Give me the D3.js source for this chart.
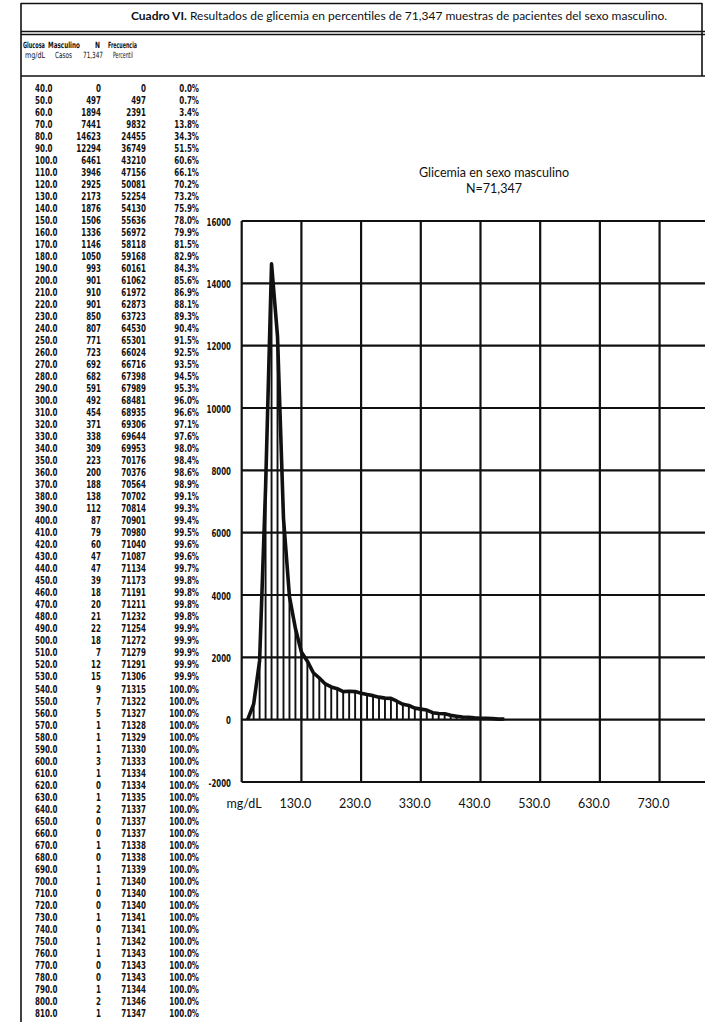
<!DOCTYPE html>
<html><head><meta charset="utf-8">
<script src="https://cdn.jsdelivr.net/npm/d3@7/dist/d3.min.js"></script>
<style>html,body{margin:0;padding:0;background:#fff;overflow:hidden}</style>
</head><body><svg id="c" width="705" height="1022"></svg>
<script>
const glucosa = [40,50,60,70,80,90,100,110,120,130,140,150,160,170,180,190,200,210,220,230,240,250,260,270,280,290,300,310,320,330,340,350,360,370,380,390,400,410,420,430,440,450,460,470,480,490,500,510,520,530,540,550,560,570,580,590,600,610,620,630,640,650,660,670,680,690,700,710,720,730,740,750,760,770,780,790,800,810];
const casos = [0,497,1894,7441,14623,12294,6461,3946,2925,2173,1876,1506,1336,1146,1050,993,901,910,901,850,807,771,723,692,682,591,492,454,371,338,309,223,200,188,138,112,87,79,60,47,47,39,18,20,21,22,18,7,12,15,9,7,5,1,1,1,3,1,0,1,2,0,0,1,0,1,1,0,0,1,0,1,1,0,0,1,2,1];
const acumulado = [0,497,2391,9832,24455,36749,43210,47156,50081,52254,54130,55636,56972,58118,59168,60161,61062,61972,62873,63723,64530,65301,66024,66716,67398,67989,68481,68935,69306,69644,69953,70176,70376,70564,70702,70814,70901,70980,71040,71087,71134,71173,71191,71211,71232,71254,71272,71279,71291,71306,71315,71322,71327,71328,71329,71330,71333,71334,71334,71335,71337,71337,71337,71338,71338,71339,71340,71340,71340,71341,71341,71342,71343,71343,71343,71344,71346,71347];
const percentil = ["0.0%","0.7%","3.4%","13.8%","34.3%","51.5%","60.6%","66.1%","70.2%","73.2%","75.9%","78.0%","79.9%","81.5%","82.9%","84.3%","85.6%","86.9%","88.1%","89.3%","90.4%","91.5%","92.5%","93.5%","94.5%","95.3%","96.0%","96.6%","97.1%","97.6%","98.0%","98.4%","98.6%","98.9%","99.1%","99.3%","99.4%","99.5%","99.6%","99.6%","99.7%","99.8%","99.8%","99.8%","99.8%","99.9%","99.9%","99.9%","99.9%","99.9%","100.0%","100.0%","100.0%","100.0%","100.0%","100.0%","100.0%","100.0%","100.0%","100.0%","100.0%","100.0%","100.0%","100.0%","100.0%","100.0%","100.0%","100.0%","100.0%","100.0%","100.0%","100.0%","100.0%","100.0%","100.0%","100.0%","100.0%","100.0%"];
const headers1 = ["Glucosa","Masculino","N","Frecuencia"];
const headers2 = ["mg/dL","Casos","71,347","Percentil"];
const tituloBold = "Cuadro VI.";
const tituloRest = " Resultados de glicemia en percentiles de 71,347 muestras de pacientes del sexo masculino.";
const chartTitle = ["Glicemia en sexo masculino","N=71,347"];
const yTicks = [-2000,0,2000,4000,6000,8000,10000,12000,14000,16000];
const xTicks = [130,230,330,430,530,630,730];
const xUnit = "mg/dL";
const chartLast = 470;

const svg = d3.select("#c");
svg.append("rect").attr("width",705).attr("height",1022).attr("fill","#fff");

const NARROW = "'Liberation Sans Narrow','DejaVu Sans Condensed',sans-serif";
const HUMAN = "Lato,'Open Sans',sans-serif";

// frame
const fr = svg.append("g").attr("stroke","#111").attr("fill","none");
fr.append("line").attr("x1",21).attr("x2",21).attr("y1",3).attr("y2",1022).attr("stroke-width",1.6);
fr.append("line").attr("x1",21).attr("x2",702).attr("y1",3.5).attr("y2",3.5).attr("stroke-width",1.6);
fr.append("line").attr("x1",702).attr("x2",702).attr("y1",3).attr("y2",76).attr("stroke-width",1.6);
fr.append("line").attr("x1",21).attr("x2",705).attr("y1",31.5).attr("y2",31.5).attr("stroke-width",1.4);
fr.append("line").attr("x1",21).attr("x2",705).attr("y1",34.5).attr("y2",34.5).attr("stroke-width",1.4);
fr.append("line").attr("x1",21).attr("x2",705).attr("y1",76).attr("y2",76).attr("stroke-width",1.6);

// title
const t = svg.append("text").attr("x",399).attr("y",16).attr("dy","0.35em").attr("text-anchor","middle")
  .attr("font-family",HUMAN).attr("font-size",12).attr("fill","#111");
t.append("tspan").attr("font-weight","bold").text(tituloBold);
t.append("tspan").text(tituloRest);

// headers (horizontally squeezed to fit the narrow columns)
function fitText(px, py, w, txt, bold){
  const el = svg.append("text").attr("dy","0.35em")
    .attr("font-family",NARROW).attr("font-weight",bold?"bold":"normal").attr("font-size",8.5)
    .attr("fill","#111").text(txt);
  const len = el.node().getComputedTextLength() || w;
  el.attr("transform",`translate(${px},${py}) scale(${w/len},1)`);
}
const h1x = [23,48,95,108], h1w = [22,32,5,29];
const h2x = [25,55,83,113], h2w = [20,17,20,20];
headers1.forEach((h,i)=>fitText(h1x[i],45,h1w[i],h,true));
headers2.forEach((h,i)=>fitText(h2x[i],55,h2w[i],h,false));

// table rows
const rowY = d3.scaleLinear().domain([0, glucosa.length-1]).range([88, 1013]);
const fmt1 = d3.format(".1f");
const tb = svg.append("g").attr("font-family",NARROW).attr("font-weight","bold").attr("font-size",11).attr("fill","#111");
function cell(x,y,txt,anchor){
  tb.append("text").attr("transform",`translate(${x},${y}) scale(0.72,1)`).attr("dy","0.35em")
    .attr("text-anchor",anchor).text(txt);
}
glucosa.forEach((g,i)=>{
  const y = rowY(i);
  cell(35,y,fmt1(g),"start");
  cell(101,y,String(casos[i]),"end");
  cell(146,y,String(acumulado[i]),"end");
  cell(199,y,percentil[i],"end");
});

// chart
const x = d3.scaleLinear().domain([30,820]).range([241.7,713.3]);
const y = d3.scaleLinear().domain([-2000,16000]).range([782,221]);
const grid = svg.append("g").attr("stroke","#111");
yTicks.forEach(v=>grid.append("line").attr("x1",x(30)).attr("x2",720).attr("y1",y(v)).attr("y2",y(v)).attr("stroke-width",2.2));
xTicks.forEach(v=>grid.append("line").attr("x1",x(v)).attr("x2",x(v)).attr("y1",y(16000)).attr("y2",y(-2000)).attr("stroke-width",2.2));
grid.append("line").attr("x1",x(30)).attr("x2",x(30)).attr("y1",y(16000)).attr("y2",y(-2000)).attr("stroke-width",2.2);

const series = glucosa.map((g,i)=>({g, v:casos[i]})).filter(d=>d.g<=chartLast);
const ch = svg.append("g");
ch.selectAll("line.drop").data(series).join("line").attr("class","drop")
  .attr("x1",d=>x(d.g)).attr("x2",d=>x(d.g)).attr("y1",y(0)).attr("y2",d=>y(d.v))
  .attr("stroke","#111").attr("stroke-width",1.9);
ch.append("path").datum(series).attr("fill","none").attr("stroke","#111").attr("stroke-width",3.6)
  .attr("stroke-linejoin","round")
  .attr("d",d3.line().x(d=>x(d.g)).y(d=>y(d.v)));

// y labels
const yl = svg.append("g").attr("font-family",NARROW).attr("font-weight","bold").attr("font-size",10).attr("fill","#111");
yTicks.forEach(v=>yl.append("text").attr("transform",`translate(231,${y(v)+1}) scale(0.78,1)`)
  .attr("dy","0.35em").attr("text-anchor","end").text(v));

// x labels
const xl = svg.append("g").attr("font-family",HUMAN).attr("font-size",12.5).attr("fill","#111").attr("text-anchor","middle");
xl.append("text").attr("x",244).attr("y",804).attr("dy","0.35em").text(xUnit);
xTicks.forEach(v=>xl.append("text").attr("x",x(v)-6).attr("y",804).attr("dy","0.35em").text(fmt1(v)));

// chart title
const ct = svg.append("g").attr("font-family",HUMAN).attr("font-size",12.5).attr("fill","#111").attr("text-anchor","middle");
ct.append("text").attr("x",494).attr("y",173).attr("dy","0.35em").text(chartTitle[0]);
ct.append("text").attr("x",494).attr("y",189).attr("dy","0.35em").text(chartTitle[1]);
</script></body></html>
